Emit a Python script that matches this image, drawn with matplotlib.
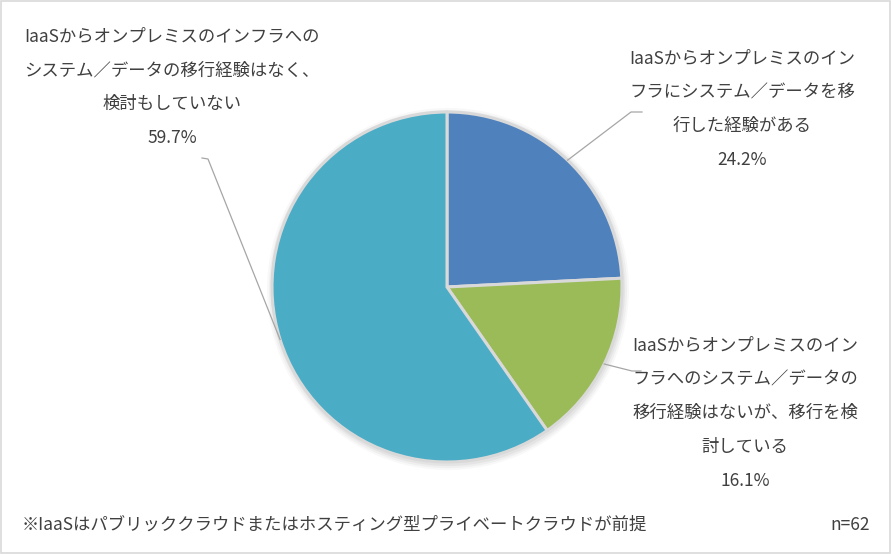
import numpy as np
import matplotlib
matplotlib.use("Agg")
import matplotlib.pyplot as plt
from matplotlib.patches import Rectangle

plt.rcParams['font.family'] = ['Noto Sans CJK JP', 'DejaVu Sans']

# data
labels = [
    "IaaSからオンプレミスのイン\nフラにシステム／データを移\n行した経験がある",
    "IaaSからオンプレミスのイン\nフラへのシステム／データの\n移行経験はないが、移行を検\n討している",
    "IaaSからオンプレミスのインフラへの\nシステム／データの移行経験はなく、\n検討もしていない",
]
shares = [24.2, 16.1, 59.7]
colors = ["#4F81BD", "#9BBB59", "#4BACC6"]
note = "※IaaSはパブリッククラウドまたはホスティング型プライベートクラウドが前提"
n_text = "n=62"

W, H = 891, 554
fig = plt.figure(figsize=(W / 100, H / 100), dpi=100)
ax = fig.add_axes([0, 0, 1, 1])

cx, cy, r = 447, 287, 175
txt_col = "#404040"
fs = 12.5

# soft shadow behind the pie
for k, a in [(6, 0.05), (4, 0.07), (2, 0.09)]:
    ax.add_patch(plt.Circle((cx + 1, cy + 2), r + k, color="#808080", alpha=a, lw=0, zorder=1))

# y axis is inverted, so data-counterclockwise from -90 is clockwise from the top on screen
wedges, _ = ax.pie(shares, colors=colors, startangle=-90, counterclock=True,
                   center=(cx, cy), radius=r, frame=True,
                   wedgeprops=dict(edgecolor="#D9D9D9", linewidth=2.2, zorder=2))
ax.set_xlim(0, W)
ax.set_ylim(H, 0)
ax.set_aspect('equal')
ax.axis('off')

# label layout: text center, leader elbow, leader end
layout = [
    dict(text=(742, 109), elbow=(631, 112), end=(642, 112)),
    dict(text=(745, 413), elbow=(632, 371), end=(641, 371)),
    dict(text=(172, 87), elbow=(208, 159), end=(202, 158)),
]

for w, lab, val, lay in zip(wedges, labels, shares, layout):
    mid = np.deg2rad((w.theta1 + w.theta2) / 2)
    ex = cx + r * np.cos(mid)
    ey = cy + r * np.sin(mid)
    ax.plot([ex, lay['elbow'][0], lay['end'][0]], [ey, lay['elbow'][1], lay['end'][1]],
            color="#A6A6A6", lw=0.9, zorder=3)
    ax.text(lay['text'][0], lay['text'][1], f"{lab}\n{val:.1f}%", ha='center', va='center',
            multialignment='center', fontsize=fs, color=txt_col, linespacing=2.13)

ax.text(22, 525, note, ha='left', va='center', fontsize=fs, color=txt_col)
ax.text(870, 525, n_text, ha='right', va='center', fontsize=fs, color=txt_col)

ax.add_patch(Rectangle((1, 1), W - 2, H - 2, fill=False, edgecolor="#D9D9D9", lw=1.2, zorder=5))

fig.savefig("out.png", dpi=100)
